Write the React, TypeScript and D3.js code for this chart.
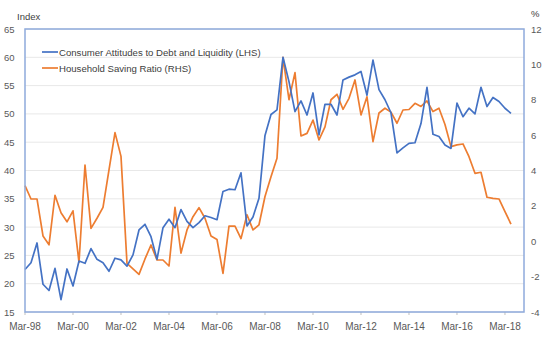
import React from "react";
import * as d3 from "d3";

// Quarterly, starting Mar-98
const attitudes: number[] = [
  22.5, 23.7, 27.2, 19.9, 18.8, 22.7, 17.2, 22.6, 19.6, 24.0,
  23.6, 26.2, 24.3, 23.7, 22.2, 24.5, 24.2, 23.1, 25.1, 29.5,
  30.5, 28.3, 24.3, 29.9, 31.4, 29.9, 33.1, 31.0, 29.9, 30.8,
  32.0, 31.7, 31.3, 36.3, 36.7, 36.6, 39.6, 30.2, 31.8, 35.1,
  46.2, 49.9, 50.7, 60.0, 55.7, 50.4, 52.3, 49.8, 53.7, 46.3,
  51.7, 51.7, 49.8, 56.0, 56.5, 56.9, 57.5, 53.3, 59.5, 54.3,
  52.5, 50.2, 43.1, 44.0, 44.8, 44.9, 48.3, 54.7, 46.4, 46.0,
  44.5, 43.9, 51.9, 49.5, 51.0, 50.0, 54.7, 51.3, 52.9, 52.2,
  51.0, 50.1,
];
const savingRatio: number[] = [
  3.14, 2.39, 2.39, 0.3, -0.2, 2.6, 1.61, 1.1, 1.72, -1.2,
  4.31, 0.73, 1.3, 1.92, 4.03, 6.14, 4.8, -1.25, -1.56, -1.87,
  -1.0, -0.21, -1.06, -1.06, -1.4, 1.92, -0.67, 0.64, 1.39, 1.9,
  1.3, 0.3, 0.1, -1.82, 0.86, 0.86, 0.15, 1.5, 0.64, 0.93,
  2.53, 3.65, 4.69, 10.4, 8.0, 9.53, 5.95, 6.1, 6.85, 5.73,
  6.47, 8.0, 8.31, 7.46, 8.08, 9.12, 7.14, 8.17, 5.63, 7.25,
  7.52, 7.3, 6.67, 7.42, 7.45, 7.8, 7.62, 7.93, 7.33, 7.52,
  6.6, 5.35, 5.45, 5.5, 4.78, 3.84, 3.9, 2.49, 2.42, 2.39,
  1.67, 0.97,
];
const xTickLabels: string[] = [
  "Mar-98", "Mar-00", "Mar-02", "Mar-04", "Mar-06", "Mar-08",
  "Mar-10", "Mar-12", "Mar-14", "Mar-16", "Mar-18",
];
const leftTicks: number[] = [15, 20, 25, 30, 35, 40, 45, 50, 55, 60, 65];
const rightTicks: number[] = [-4, -2, 0, 2, 4, 6, 8, 10, 12];
const seriesNames: string[] = [
  "Consumer Attitudes to Debt and Liquidity (LHS)",
  "Household Saving Ratio (RHS)",
];

const BLUE = "#4472C4";
const ORANGE = "#ED7D31";
const AXIS = "#8FAADC";
const FONT = "'Liberation Sans', Arial, sans-serif";

export default function App() {
  const W = 550, H = 359;
  const left = 25, right = 524, top = 29, bottom = 312;
  const x = d3.scaleLinear().domain([0, 83.17]).range([left, right]);
  const yL = d3.scaleLinear().domain([15, 65]).range([bottom, top]);
  const yR = d3.scaleLinear().domain([-4, 12]).range([bottom, top]);

  const lineL = d3.line<number>().x((_, i) => x(i)).y((d) => yL(d));
  const lineR = d3.line<number>().x((_, i) => x(i)).y((d) => yR(d));

  return (
    <svg
      width={W}
      height={H}
      style={{ position: "absolute", left: 0, top: 0, background: "#fff" }}
      fontFamily={FONT}
    >
      {leftTicks.map((t) => (
        <line key={"g" + t} x1={left} x2={right} y1={yL(t)} y2={yL(t)} stroke="#E8E8E8" strokeWidth={1} />
      ))}
      {leftTicks.map((t) => (
        <text key={"l" + t} x={14.5} y={yL(t) + 3.5} fontSize={9.5} fill="#595959" textAnchor="end">
          {t}
        </text>
      ))}
      {rightTicks.map((t) => (
        <text key={"r" + t} x={531} y={yR(t) + 3.5} fontSize={9.5} fill="#595959" textAnchor="start">
          {t}
        </text>
      ))}
      <text x={17} y={20} fontSize={9.5} fill="#404040">Index</text>
      <text x={531} y={17} fontSize={9.5} fill="#404040">%</text>

      {xTickLabels.map((lab, k) => (
        <g key={lab}>
          <line x1={x(k * 8)} x2={x(k * 8)} y1={bottom} y2={bottom + 3} stroke="#BFBFBF" />
          <text x={x(k * 8)} y={329.5} fontSize={10} fill="#595959" textAnchor="middle">
            {lab}
          </text>
        </g>
      ))}

      <path d={lineR(savingRatio) || ""} fill="none" stroke={ORANGE} strokeWidth={1.7} strokeLinejoin="round" />
      <path d={lineL(attitudes) || ""} fill="none" stroke={BLUE} strokeWidth={1.7} strokeLinejoin="round" />

      <rect x={left} y={top} width={right - left} height={bottom - top} fill="none" stroke={AXIS} strokeWidth={1.5} />

      <line x1={42} x2={58} y1={52} y2={52} stroke={BLUE} strokeWidth={1.7} />
      <text x={59} y={55.5} fontSize={9.6} fill="#404040">{seriesNames[0]}</text>
      <line x1={42} x2={58} y1={68} y2={68} stroke={ORANGE} strokeWidth={1.7} />
      <text x={59} y={71.5} fontSize={9.6} fill="#404040">{seriesNames[1]}</text>
    </svg>
  );
}
